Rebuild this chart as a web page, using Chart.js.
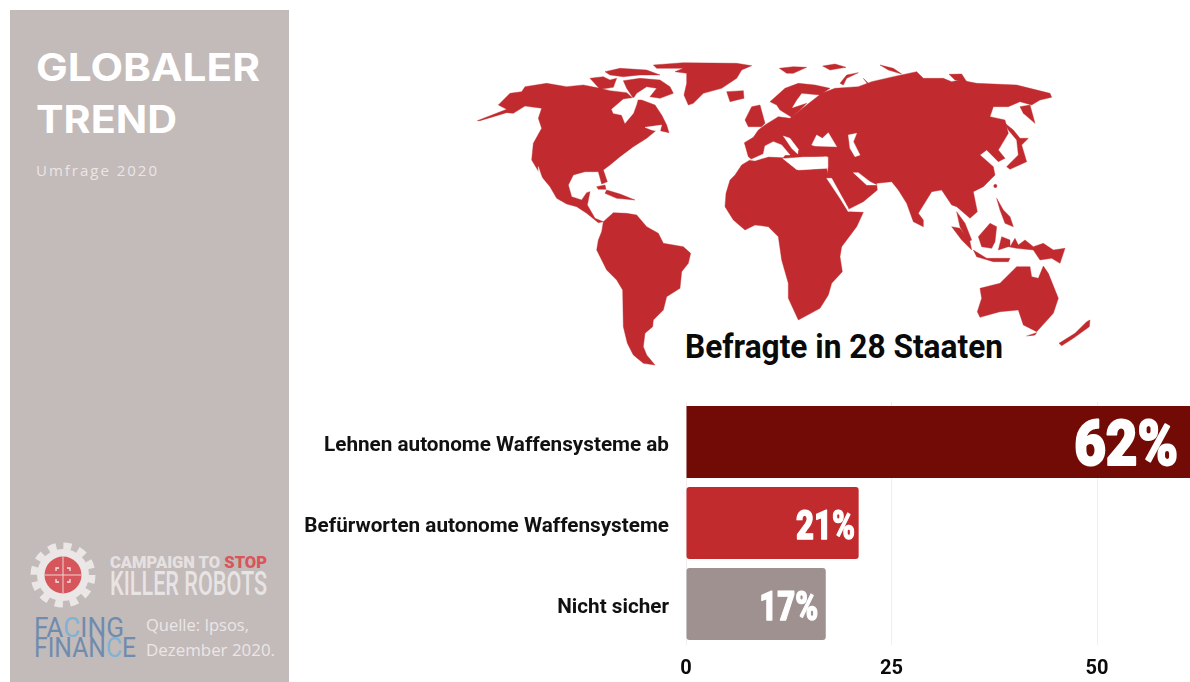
<!DOCTYPE html>
<html lang="de"><head><meta charset="utf-8">
<title>Globaler Trend</title>
<script src="https://cdn.jsdelivr.net/npm/chart.js@4"></script>
<style>
html,body{margin:0;padding:0;background:#fff;overflow:hidden;width:1190px;height:682px}
#c{position:absolute;left:0;top:0}
#art{position:absolute;left:0;top:0}
</style></head><body>
<svg id="art" width="1190" height="682" viewBox="0 0 1190 682" xmlns="http://www.w3.org/2000/svg">
<defs><filter id="soft" x="-5%" y="-5%" width="110%" height="110%"><feGaussianBlur stdDeviation="0.6"/></filter></defs>
<rect x="10" y="10" width="279" height="672" fill="#c3baba"/>
<text x="36" y="81" font-family="Inter" font-weight="700" font-size="38" fill="#fff" textLength="224" lengthAdjust="spacingAndGlyphs">GLOBALER</text>
<text x="36" y="133" font-family="Inter" font-weight="700" font-size="38" fill="#fff" textLength="141" lengthAdjust="spacingAndGlyphs">TREND</text>
<text x="36" y="176" font-family="Open Sans" font-size="15" fill="#ebe6e6" textLength="121" lengthAdjust="spacing">Umfrage 2020</text>

<!-- campaign logo -->
<circle cx="63" cy="575" r="29" fill="none" stroke="#ebe7e7" stroke-width="7" stroke-dasharray="8.1 7.1"/>
<circle cx="63" cy="575" r="26" fill="#ebe7e7"/>
<circle cx="63" cy="575" r="18.5" fill="#d6565c"/>
<path d="M63 556.5V593.5M44.5 575H81.5" stroke="#e6d6d6" stroke-width="1"/>
<path d="M56 571V568H59M67 568H70V571M56 579V582H59M67 582H70V579" fill="none" stroke="#efe6e6" stroke-width="1.3"/>
<text x="110" y="568" font-family="Roboto" font-weight="900" font-size="16.5" fill="#e6e1e1" textLength="157" lengthAdjust="spacingAndGlyphs">CAMPAIGN TO <tspan fill="#d9555b">STOP</tspan></text>
<text x="110" y="595" font-family="Roboto" font-weight="500" font-size="33" fill="#e8e4e4" textLength="157" lengthAdjust="spacingAndGlyphs">KILLER ROBOTS</text>
<text x="34" y="637" font-family="Roboto" font-size="27" fill="#6f8cae" textLength="90" lengthAdjust="spacingAndGlyphs">FA<tspan fill="#7fb3d3">C</tspan>ING</text>
<text x="34" y="657" font-family="Roboto" font-size="27" fill="#6f8cae" textLength="102" lengthAdjust="spacingAndGlyphs">FINAN<tspan fill="#7fb3d3">C</tspan>E</text>
<text x="146" y="631" font-family="Open Sans" font-size="15.5" fill="#ebe6e6" textLength="103" lengthAdjust="spacingAndGlyphs">Quelle: Ipsos,</text>
<text x="146" y="656" font-family="Open Sans" font-size="15.5" fill="#ebe6e6" textLength="129" lengthAdjust="spacingAndGlyphs">Dezember 2020.</text>

<!-- world map, decoration -->
<g fill="#c12b2d" stroke="#c12b2d" stroke-width="1.2" stroke-linejoin="round" filter="url(#soft)">
 <g transform="translate(470 50) scale(.33333)">
  <path d="M22 212L110 178 85 165 120 130 155 125 165 110 230 100 290 110 340 105 390 115 420 122 470 128 495 150 515 150 555 165 575 195 590 225 597 248 560 240 530 265 490 290 450 320 420 345 400 360 412 395 395 402 385 365 345 365 310 375 295 405 305 440 335 450 350 428 360 425 352 465 375 505 400 515 385 518 350 490 320 470 290 462 260 445 240 410 215 380 185 330 190 280 215 235 205 205 215 175 165 168 130 190 110 188 30 212Z"/>
  <path d="M360 85L400 80 420 90 440 85 430 112 390 118Z"/>
  <path d="M405 65L450 55 530 60 570 75 510 75 460 80 420 75Z"/>
  <path d="M460 92L510 85 570 90 600 110 610 130 570 145 540 140 560 115 530 110 500 130 490 145 470 115Z"/>
  <path d="M550 45L640 38 800 40 845 47 815 60 800 85 755 115 700 130 670 160 655 165 642 135 650 100 650 70 615 65 640 55 560 55Z"/>
  <path d="M770 125L820 122 822 145 780 155Z"/>
  <path d="M410 420L450 432 495 450 440 445 405 430Z"/>
  <path d="M380 410L405 405 408 418 385 418Z"/>
  <path d="M400 515L430 488 470 490 500 495 530 530 565 550 580 580 640 590 662 610 655 640 635 665 630 715 590 740 580 780 550 810 548 830 525 850 520 890 530 915 555 945 520 940 490 915 472 880 460 830 458 720 440 690 410 660 380 600 385 570 395 545Z"/>
  <path d="M205 350L225 410 210 395 205 365Z" fill="#fff" stroke="#fff"/>
  <path d="M425 178L460 148 505 142 500 162 490 190 465 220 455 195 430 190Z" fill="#fff" stroke="#fff"/>
  <path d="M525 232L575 225 570 245 545 240Z" fill="#fff" stroke="#fff"/>
 </g>
 <g transform="translate(760 50) scale(.33333)">
  <path d="M-75 375L-55 345 -30 330 10 318 55 318 70 328 110 360 200 355 205 385 240 440 265 485 310 487 290 530 245 590 240 620 247 665 215 700 205 735 180 775 115 810 85 745 85 700 65 630 55 560 25 530 -15 525 -45 540 -80 510 -105 470 -102 430 -90 390Z"/>
  <path d="M-47 278L-20 262 -5 240 15 225 55 200 90 205 140 165 185 130 225 115 295 110 335 95 400 80 470 65 490 85 550 85 575 95 600 90 650 100 770 105 870 130 875 142 840 150 815 165 780 155 745 170 700 170 690 200 735 210 745 250 715 300 735 325 715 335 680 300 660 315 700 350 705 375 670 410 640 425 652 485 630 505 590 470 575 465 545 420 515 425 475 490 490 510 490 530 460 515 440 460 415 420 395 395 350 400 352 420 310 455 265 478 200 385 205 350 205 320 130 320 70 325 -25 328 -35 320Z"/>
  <path d="M-45 210L-25 170 0 165 15 220 5 230 -20 230 -35 230Z"/>
  <path d="M30 155L75 115 115 100 165 105 210 115 180 135 125 130 110 150 95 175 140 160 120 180 95 202 60 180 50 165Z"/>
  <path d="M58 55L100 50 140 52 100 70 80 70ZM188 48L225 42 258 52 210 60ZM240 100L260 75 295 68 260 85 250 105ZM310 85L335 110 345 128 325 105ZM360 45L400 55 425 72 385 60ZM567 73L605 72 620 95 585 90Z"/>
  <path d="M780 170L810 165 825 220 790 190Z"/>
  <path d="M735 220L760 240 780 265 805 265 785 285 800 335 750 358 740 350 775 315 770 270 745 240Z"/>
  <circle cx="706" cy="408" r="5"/>
  <path d="M710 445L730 480 750 500 760 530 735 520 720 480Z"/>
  <path d="M590 485L615 520 635 570 625 575 600 530Z"/>
  <path d="M575 530L600 535 630 575 635 600 605 570Z"/>
  <path d="M640 600L680 625 750 625 745 635 700 635 650 620Z"/>
  <path d="M655 560L690 520 710 530 705 575 695 595 665 590Z"/>
  <path d="M715 600L725 560 750 570 750 590 765 565 775 585 795 570 820 590 850 580 880 600 915 595 900 640 875 625 840 630 820 600 770 595 745 590Z"/>
  <path d="M660 715L720 700 770 650 810 650 815 680 835 685 850 648 865 670 895 745 880 790 830 845 790 825 775 780 720 785 660 802 652 785 665 745Z"/>
  <path d="M800 858L830 848 825 855Z"/>
  <path d="M897 880L945 850 980 815 990 810 988 830 940 865 905 887Z"/>
  <g fill="#fff" stroke="#fff">
   <path d="M-30 330L10 312 15 288 40 275 65 285 90 315 75 315 70 322 25 320 -15 332Z"/>
   <path d="M70 326L115 342 130 325 200 320 200 355 115 360Z"/>
   <path d="M70 258L90 265 115 298 113 312 95 295Z"/>
   <path d="M155 285L170 255 187 265 205 248 230 290 165 288Z"/>
   <path d="M265 255L290 250 280 275 300 315 285 320 270 295Z"/>
   <path d="M280 368L295 368 330 395 350 405 320 405Z"/>
   <path d="M200 385L215 385 265 475 265 485 240 445Z"/>
  </g>
 </g>
</g>
<text x="685" y="358" font-family="Roboto" font-weight="700" font-size="33" fill="#0a0a0a" textLength="318" lengthAdjust="spacingAndGlyphs">Befragte in 28 Staaten</text>
</svg>
<canvas id="c" width="1190" height="682"></canvas>
<script>
const categories = ["Lehnen autonome Waffensysteme ab", "Befürworten autonome Waffensysteme", "Nicht sicher"];
const values = [62, 21, 17];
const barColors = ["#720b06", "#c12b2d", "#a09191"];
const corners = [0, 3, 3];
const xTicks = [0, 25, 50];
const labelFontSizes = [63, 40, 40];
const labelWidths = [104, 59, 59];
const labelInsets = [17.6, 3.6, 7.6];
const labelShifts = [7.5, 5.5, 6];
const categoryLabelShift = 4;

const valueLabels = {
  id: "valueLabels",
  beforeDraw(chart) {
    chart.scales.y.getLabelItems().forEach(item => { item.textOffset = categoryLabelShift; });
  },
  afterDatasetsDraw(chart) {
    const { ctx, scales: { x, y } } = chart;
    values.forEach((v, i) => {
      const text = v + "%";
      const right = x.getPixelForValue(v) - labelInsets[i];
      const cy = y.getPixelForValue(i);
      ctx.save();
      ctx.font = "900 " + labelFontSizes[i] + "px Roboto";
      ctx.textAlign = "right";
      ctx.textBaseline = "middle";
      ctx.fillStyle = "#fff";
      ctx.strokeStyle = "#fff";
      ctx.lineWidth = labelFontSizes[i] / 32;
      ctx.lineJoin = "round";
      const k = labelWidths[i] / ctx.measureText(text).width;
      ctx.translate(right, cy + labelShifts[i]);
      ctx.scale(k, 1);
      ctx.fillText(text, 0, 0);
      ctx.strokeText(text, 0, 0);
      ctx.restore();
    });
  }
};

new Chart(document.getElementById("c"), {
  type: "bar",
  data: {
    labels: categories,
    datasets: [{
      data: values,
      backgroundColor: barColors,
      borderRadius: corners,
      borderSkipped: false,
      barPercentage: 0.889,
      categoryPercentage: 1
    }]
  },
  plugins: [valueLabels],
  options: {
    indexAxis: "y",
    responsive: false,
    animation: false,
    events: [],
    layout: { padding: { top: 401.5, left: 0, right: 0, bottom: 0 } },
    plugins: { legend: { display: false }, tooltip: { enabled: false }, title: { display: false } },
    scales: {
      x: {
        min: 0,
        max: 61.3,
        afterBuildTicks(s) { s.ticks = xTicks.map(value => ({ value })); },
        grid: { color: "#f1efef", lineWidth: 1, drawTicks: false },
        border: { display: false },
        ticks: { color: "#0a0a0a", font: { family: "Roboto", size: 20, weight: "700" }, padding: 12, maxRotation: 0, includeBounds: false, align: "center" },
        afterFit(s) { s.height = 37.5; }
      },
      y: {
        grid: { display: false, drawTicks: false },
        border: { display: false },
        ticks: { color: "#111", font: { family: "Roboto", size: 20.7, weight: "700" }, padding: 17 },
        afterFit(s) { s.width = 686; }
      }
    }
  }
});
</script>
</body></html>
